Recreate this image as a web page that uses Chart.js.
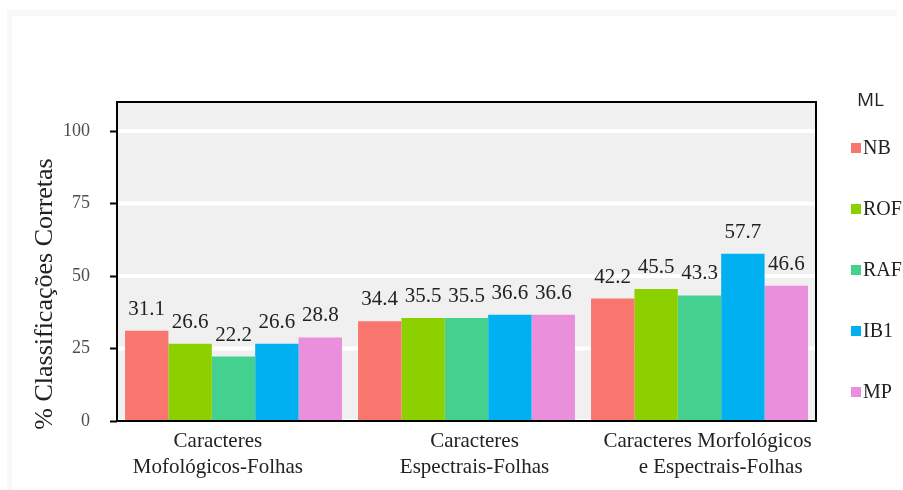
<!DOCTYPE html>
<html>
<head>
<meta charset="utf-8">
<script src="https://cdn.jsdelivr.net/npm/chart.js@4.4.1/dist/chart.umd.min.js"></script>
<style>
  html, body { margin: 0; padding: 0; background: #ffffff; overflow: hidden; }
  #wrap { width: 903px; height: 490px; position: relative; }
</style>
</head>
<body>
<div id="wrap"><canvas id="chart" width="903" height="490"></canvas></div>
<script>
// Groups of descriptors (x-axis categories, two lines each)
const categories = [
  ["Caracteres         ", "Mofológicos-Folhas         "],
  ["Caracteres", "Espectrais-Folhas"],
  ["Caracteres Morfológicos", "     e Espectrais-Folhas"]
];

// Classifier names (legend)
const classifiers = ["NB", "ROF", "RAF", "IB1", "MP"];

// % correct classifications per classifier, one value per group
const nbValues  = [31.1, 34.4, 42.2];
const rofValues = [26.6, 35.5, 45.5];
const rafValues = [22.2, 35.5, 43.3];
const ib1Values = [26.6, 36.6, 57.7];
const mpValues  = [28.8, 36.6, 46.6];

// Y-axis tick values
const yTicks = [0, 25, 50, 75, 100];

const seriesValues = [nbValues, rofValues, rafValues, ib1Values, mpValues];
const seriesColors = ["#F8766D", "#8CD000", "#44D18F", "#00B0F0", "#EA8FDC"];

const SERIF = "'Liberation Serif', 'Times New Roman', serif";

// Page background, grey panel and white gridlines
const backgroundPlugin = {
  id: "panelBackground",
  beforeDraw(chart) {
    const { ctx, chartArea: a } = chart;
    const yScale = chart.scales.y;
    ctx.save();
    ctx.fillStyle = "#ffffff";
    ctx.fillRect(0, 0, chart.width, chart.height);
    ctx.fillStyle = "#f8f8f8";
    ctx.fillRect(7, 10, 890, 6);
    ctx.fillRect(7, 10, 5, 480);
    ctx.fillStyle = "#f0f0f0";
    ctx.fillRect(a.left, a.top, a.right - a.left, a.bottom - a.top);
    ctx.strokeStyle = "#ffffff";
    ctx.lineWidth = 4;
    yTicks.forEach(v => {
      const y = yScale.getPixelForValue(v);
      ctx.beginPath();
      ctx.moveTo(a.left, y);
      ctx.lineTo(a.right, y);
      ctx.stroke();
    });
    ctx.restore();
  }
};

// Black frame around the plotting area, value labels, y title and legend
const overlayPlugin = {
  id: "overlay",
  afterDraw(chart) {
    const { ctx, chartArea: a } = chart;
    ctx.save();

    // value labels above each bar
    ctx.font = "21px " + SERIF;
    ctx.fillStyle = "#222222";
    ctx.textAlign = "center";
    ctx.textBaseline = "alphabetic";
    chart.data.datasets.forEach((ds, i) => {
      const meta = chart.getDatasetMeta(i);
      meta.data.forEach((bar, j) => {
        ctx.fillText(ds.data[j].toFixed(1), bar.x, bar.y - 16);
      });
    });

    // frame
    ctx.strokeStyle = "#000000";
    ctx.lineWidth = 2;
    ctx.strokeRect(a.left, a.top, a.right - a.left, a.bottom - a.top);

    // y-axis title
    ctx.save();
    ctx.translate(52, 294);
    ctx.rotate(-Math.PI / 2);
    ctx.font = "26px " + SERIF;
    ctx.fillStyle = "#222222";
    ctx.textAlign = "center";
    ctx.textBaseline = "alphabetic";
    ctx.fillText("% Classificações Corretas", 0, 0);
    ctx.restore();

    // legend
    ctx.font = "19px 'Open Sans', 'Noto Sans', sans-serif";
    ctx.fillStyle = "#222222";
    ctx.textAlign = "left";
    ctx.textBaseline = "middle";
    ctx.fillText("ML", 857, 101);
    ctx.font = "20px " + SERIF;
    chart.data.datasets.forEach((ds, i) => {
      const y = 148 + i * 61;
      ctx.fillStyle = ds.backgroundColor;
      ctx.fillRect(851, y - 5, 10, 10);
      ctx.fillStyle = "#222222";
      ctx.fillText(ds.label, 863, y + 1);
    });

    ctx.restore();
  }
};

new Chart(document.getElementById("chart"), {
  type: "bar",
  data: {
    labels: categories,
    datasets: classifiers.map((name, i) => ({
      label: name,
      data: seriesValues[i],
      backgroundColor: seriesColors[i],
      borderWidth: 0,
      categoryPercentage: 0.931,
      barPercentage: 1.0
    }))
  },
  options: {
    responsive: false,
    animation: false,
    layout: { padding: { left: 0, top: 102, right: 87, bottom: 0 } },
    plugins: {
      legend: { display: false },
      tooltip: { enabled: false }
    },
    scales: {
      x: {
        grid: { display: false, drawTicks: false },
        border: { display: false },
        ticks: {
          font: { family: SERIF, size: 21, lineHeight: 1.24 },
          color: "#222222",
          padding: 7,
          labelOffset: 8,
          maxRotation: 0,
          autoSkip: false
        },
        afterFit(scale) { scale.height = 69; }
      },
      y: {
        min: 0,
        max: 110,
        afterBuildTicks(scale) {
          scale.ticks = yTicks.map(v => ({ value: v }));
        },
        grid: {
          color: "rgba(0,0,0,0)",
          drawTicks: true,
          tickLength: 7,
          tickColor: "#000000",
          tickWidth: 2
        },
        border: { display: false },
        ticks: {
          font: { family: SERIF, size: 18 },
          color: "#4D4D4D",
          padding: 20
        },
        afterFit(scale) { scale.width = 117; }
      }
    }
  },
  plugins: [backgroundPlugin, overlayPlugin]
});
</script>
</body>
</html>
